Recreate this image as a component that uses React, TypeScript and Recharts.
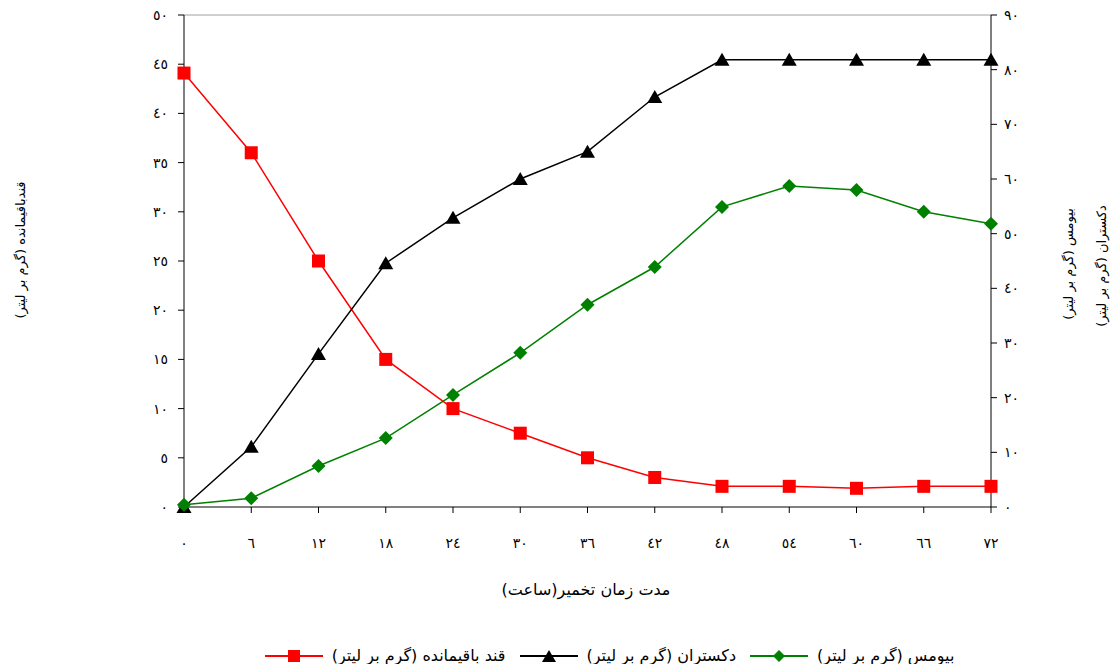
import React from 'react';
import { LineChart, Line, XAxis, YAxis, ReferenceLine } from 'recharts';

const hours = [0, 6, 12, 18, 24, 30, 36, 42, 48, 54, 60, 66, 72];
const sugar = [44.1, 36, 25, 15, 10, 7.5, 5, 3, 2.1, 2.1, 1.9, 2.1, 2.1];
const dextran = [0, 11, 28, 44.6, 52.9, 60, 65, 75, 81.8, 81.8, 81.8, 81.8, 81.8];
const biomass = [0.4, 1.6, 7.5, 12.6, 20.5, 28.2, 37, 43.9, 54.9, 58.7, 58, 54, 51.8];
const leftTicks = [0, 5, 10, 15, 20, 25, 30, 35, 40, 45, 50];
const rightTicks = [0, 10, 20, 30, 40, 50, 60, 70, 80, 90];

const sugarName = 'قند باقیمانده (گرم بر لیتر)';
const dextranName = 'دکستران (گرم بر لیتر)';
const biomassName = 'بیومس (گرم بر لیتر)';
const leftTitle = 'قندباقیمانده (گرم بر لیتر)';
const rightTitle1 = 'بیومس (گرم بر لیتر)';
const rightTitle2 = 'دکستران (گرم بر لیتر)';
const xTitle = 'مدت زمان تخمیر(ساعت)';

const data = hours.map((h, i) => ({ h, sugar: sugar[i], dextran: dextran[i], biomass: biomass[i] }));

const AR = '"DejaVu Sans", sans-serif';
const digits = '٠١٢٣٤٥٦٧٨٩';
const toArabic = (v: number) => String(v).replace(/\d/g, (d) => digits[Number(d)]);

const Square = (props: any) => {
  const { cx, cy } = props;
  if (cx == null || cy == null) return null;
  return <rect x={cx - 6.5} y={cy - 6.5} width={13} height={13} fill="#ff0000" />;
};
const Triangle = (props: any) => {
  const { cx, cy } = props;
  if (cx == null || cy == null) return null;
  return <path d={`M${cx},${cy - 7}L${cx + 7.5},${cy + 6}L${cx - 7.5},${cy + 6}Z`} fill="#000" />;
};
const Diamond = (props: any) => {
  const { cx, cy } = props;
  if (cx == null || cy == null) return null;
  return <path d={`M${cx},${cy - 7}L${cx + 7},${cy}L${cx},${cy + 7}L${cx - 7},${cy}Z`} fill="#008000" />;
};

const VTitle = ({ x, y, text, size }: { x: number; y: number; text: string; size: number }) => (
  <text
    x={x}
    y={y}
    transform={`rotate(-90 ${x} ${y})`}
    textAnchor="middle"
    dominantBaseline="central"
    fontFamily={AR}
    fontSize={size}
    fill="#000"
    style={{ direction: 'rtl' }}
  >
    {text}
  </text>
);

const LeftTitle = () => <VTitle x={20} y={250} text={leftTitle} size={13} />;
const RightTitles = () => (
  <g>
    <VTitle x={1068} y={264} text={rightTitle1} size={13} />
    <VTitle x={1101} y={266} text={rightTitle2} size={13} />
  </g>
);
const XTitle = () => (
  <text x={586} y={589} textAnchor="middle" dominantBaseline="central" fontFamily={AR} fontSize={16} fill="#000" style={{ direction: 'rtl' }}>
    {xTitle}
  </text>
);

const legendItems = [
  { name: biomassName, color: '#008000', shape: 'diamond' },
  { name: dextranName, color: '#000000', shape: 'triangle' },
  { name: sugarName, color: '#ff0000', shape: 'square' },
];

const LegendMarker = ({ color, shape }: { color: string; shape: string }) => (
  <svg width={58} height={16} style={{ display: 'block' }}>
    <line x1={0} y1={8} x2={58} y2={8} stroke={color} strokeWidth={2} />
    {shape === 'square' && <rect x={23} y={2} width={12} height={12} fill={color} />}
    {shape === 'triangle' && <path d="M29,2L36,14L22,14Z" fill={color} />}
    {shape === 'diamond' && <path d="M29,2L35,8L29,14L23,8Z" fill={color} />}
  </svg>
);

const tickStyle = { fill: '#000', fontSize: 14, fontFamily: AR };

export default function App() {
  return (
    <div style={{ position: 'absolute', left: 0, top: 0, width: 1115, height: 664, background: '#fff' }}>
      <LineChart width={1115} height={664} data={data} margin={{ top: 15, right: 0, bottom: 97, left: 0 }}>
        <XAxis
          dataKey="h"
          type="number"
          domain={[0, 72]}
          ticks={hours}
          tickFormatter={toArabic}
          axisLine={{ stroke: '#000' }}
          tickLine={{ stroke: '#000' }}
          tickSize={6}
          tickMargin={25}
          tick={tickStyle}
          height={60}
          interval={0}
          label={<XTitle />}
        />
        <YAxis
          yAxisId="left"
          domain={[0, 50]}
          ticks={leftTicks}
          tickFormatter={toArabic}
          width={184}
          axisLine={{ stroke: '#000' }}
          tickLine={{ stroke: '#000' }}
          tickSize={6}
          tickMargin={10}
          tick={tickStyle}
          interval={0}
          label={<LeftTitle />}
        />
        <YAxis
          yAxisId="right"
          orientation="right"
          domain={[0, 90]}
          ticks={rightTicks}
          tickFormatter={toArabic}
          width={124}
          axisLine={{ stroke: '#000' }}
          tickLine={{ stroke: '#000' }}
          tickSize={6}
          tickMargin={7}
          tick={tickStyle}
          interval={0}
          label={<RightTitles />}
        />
        <ReferenceLine yAxisId="left" y={50} stroke="#a0a0a0" strokeWidth={1} />
        <Line yAxisId="left" dataKey="sugar" stroke="#ff0000" strokeWidth={1.5} dot={<Square />} isAnimationActive={false} />
        <Line yAxisId="right" dataKey="dextran" stroke="#000" strokeWidth={1.5} dot={<Triangle />} isAnimationActive={false} />
        <Line yAxisId="right" dataKey="biomass" stroke="#008000" strokeWidth={1.5} dot={<Diamond />} isAnimationActive={false} />
      </LineChart>
      <div
        dir="rtl"
        style={{
          position: 'absolute',
          top: 646,
          left: 52,
          width: 1115,
          display: 'flex',
          justifyContent: 'center',
          alignItems: 'center',
          fontFamily: AR,
          fontSize: 16,
          color: '#000',
        }}
      >
        <div style={{ display: 'flex', alignItems: 'center', gap: 14 }}>
          {legendItems.map((it) => (
            <div key={it.name} style={{ display: 'flex', alignItems: 'center', gap: 9 }}>
              <span style={{ whiteSpace: 'nowrap' }}>{it.name}</span>
              <LegendMarker color={it.color} shape={it.shape} />
            </div>
          ))}
        </div>
      </div>
    </div>
  );
}
